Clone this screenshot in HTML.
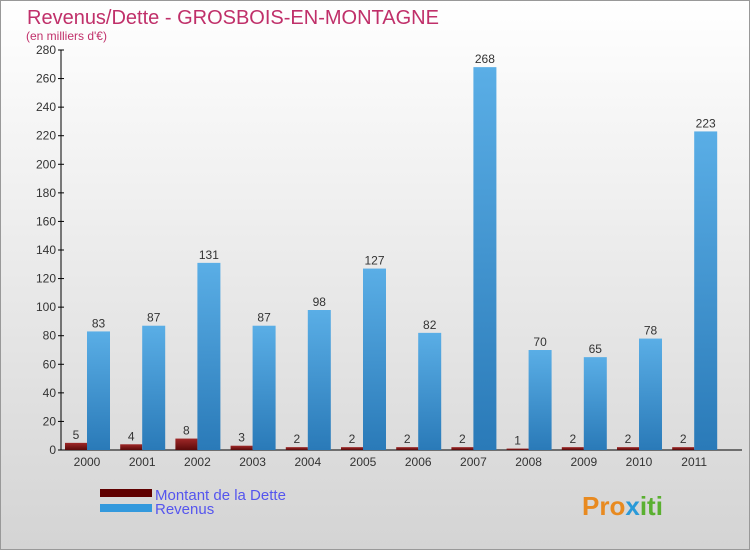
<!DOCTYPE html>
<html><head><meta charset="utf-8"><style>
body{margin:0}
#c{width:750px;height:550px;position:relative;font-family:"Liberation Sans",sans-serif}
</style></head><body>
<div id="c">
<svg width="750" height="550" xmlns="http://www.w3.org/2000/svg">
<defs>
<linearGradient id="bg" x1="0" y1="0" x2="0" y2="1"><stop offset="0" stop-color="#ffffff"/><stop offset="1" stop-color="#d4d4d4"/></linearGradient>
<linearGradient id="gb" x1="0" y1="0" x2="0" y2="1"><stop offset="0" stop-color="#5aaee6"/><stop offset="1" stop-color="#2a7ab8"/></linearGradient>
<linearGradient id="gr" x1="0" y1="0" x2="0" y2="1"><stop offset="0" stop-color="#a02828"/><stop offset="1" stop-color="#5a0a0a"/></linearGradient>
</defs>
<rect x="0.5" y="0.5" width="749" height="549" fill="url(#bg)" stroke="#999"/>
<text x="27" y="24" font-size="20" fill="#c0306a">Revenus/Dette - GROSBOIS-EN-MONTAGNE</text>
<text x="26" y="40" font-size="12" fill="#c0306a">(en milliers d'€)</text>
<g id="axes"></g>
<g id="bars"></g>
<rect x="100" y="489" width="52" height="8" fill="#600000"/>
<text x="155" y="500" font-size="15" fill="#5555ee">Montant de la Dette</text>
<rect x="100" y="504" width="52" height="8" fill="#3399dd"/>
<text x="155" y="514" font-size="15" fill="#5555ee">Revenus</text>
<text x="582" y="515" font-size="26" font-weight="bold" fill="#e88a20">Pro<tspan fill="#2a9ad8">x</tspan><tspan fill="#5ab030">iti</tspan></text>
</svg>
</div>
<script>
const years=["2000","2001","2002","2003","2004","2005","2006","2007","2008","2009","2010","2011"];
const dette=[5,4,8,3,2,2,2,2,1,2,2,2];
const revenus=[83,87,131,87,98,127,82,268,70,65,78,223];
const ticks=[0,20,40,60,80,100,120,140,160,180,200,220,240,260,280];
const NS="http://www.w3.org/2000/svg";
const y0=450,plotTop=50,maxV=280;
const y=v=>y0-(v/maxV)*(y0-plotTop);
const gx=i=>87+55.2*i;
function mk(t,a,p){const e=document.createElementNS(NS,t);for(const k in a)e.setAttribute(k,a[k]);p.appendChild(e);return e;}
const ax=document.getElementById('axes'),bs=document.getElementById('bars');
const yl=mk('line',{x1:61,y1:plotTop,x2:61,y2:y0,stroke:'#000'},ax);


const xl=mk('line',{x1:61,y1:y0,x2:742,y2:y0,stroke:'#000'},ax);


ticks.forEach(t=>{
 mk('line',{x1:58,y1:y(t),x2:64,y2:y(t),stroke:'#000'},ax);
 const tx=mk('text',{x:56,y:y(t)+4,'font-size':12,fill:'#333','text-anchor':'end'},ax);tx.textContent=t;
 
 
});
years.forEach((yr,i)=>{
 const c=gx(i);
 const lt=mk('text',{x:c,y:466,'font-size':12,fill:'#333','text-anchor':'middle'},ax);lt.textContent=yr;
 
 
 const b1=mk('rect',{x:c-22,y:y(dette[i]),width:22,height:y0-y(dette[i]),fill:'url(#gr)'},bs);
 
 
 const t1=mk('text',{x:c-11,y:y(dette[i])-4,'font-size':12,fill:'#333','text-anchor':'middle'},bs);t1.textContent=dette[i];
 
 
 const b2=mk('rect',{x:c,y:y(revenus[i]),width:23,height:y0-y(revenus[i]),fill:'url(#gb)'},bs);
 
 
 const t2=mk('text',{x:c+11.5,y:y(revenus[i])-4,'font-size':12,fill:'#333','text-anchor':'middle'},bs);t2.textContent=revenus[i];
 
 
});
</script>
</body></html>
